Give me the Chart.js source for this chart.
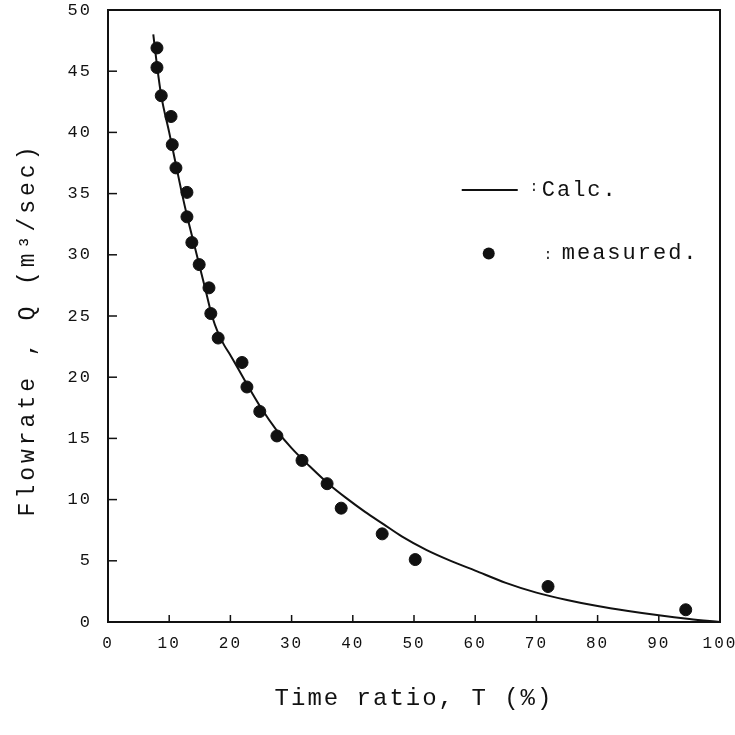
<!DOCTYPE html>
<html>
<head>
<meta charset="utf-8">
<script src="https://cdn.jsdelivr.net/npm/chart.js@4/dist/chart.umd.min.js"></script>
<style>
  html, body { margin: 0; padding: 0; background: #fff; }
  #wrap { width: 735px; height: 735px; }
</style>
</head>
<body>
<div id="wrap"><canvas id="chart"></canvas></div>
<script>
// calculated curve
const calcT = [7.4, 8, 8.7, 10, 11, 12, 13, 14, 15, 16, 17, 18, 19, 20, 22.5, 25, 27.5, 30, 33, 36, 39, 42, 45, 48, 52, 56, 60, 65, 70, 75, 80, 85, 90, 95, 100];
const calcQ = [48.0, 45.5, 43.0, 40.0, 37.6, 35.2, 33.0, 31.0, 29.0, 27.0, 25.0, 23.6, 22.6, 21.8, 19.6, 17.5, 15.7, 14.2, 12.7, 11.3, 10.1, 9.0, 8.0, 7.0, 5.9, 5.0, 4.2, 3.2, 2.4, 1.8, 1.3, 0.9, 0.55, 0.25, 0];

// measured points
const measuredT = [8.0, 8.0, 8.7, 10.3, 10.5, 11.1, 12.9, 12.9, 13.7, 14.9, 16.5, 16.8, 18.0, 21.9, 22.7, 24.8, 27.6, 31.7, 35.8, 38.1, 44.8, 50.2, 71.9, 94.4];
const measuredQ = [46.9, 45.3, 43.0, 41.3, 39.0, 37.1, 35.1, 33.1, 31.0, 29.2, 27.3, 25.2, 23.2, 21.2, 19.2, 17.2, 15.2, 13.2, 11.3, 9.3, 7.2, 5.1, 2.9, 1.0];

const xTicks = [0, 10, 20, 30, 40, 50, 60, 70, 80, 90, 100];
const yTicks = [0, 5, 10, 15, 20, 25, 30, 35, 40, 45, 50];

const yTitle = 'Flowrate , Q (m³/sec)';

const FONT = '"Liberation Mono", "DejaVu Sans Mono", monospace';
const INK = '#111';

// frame, inward ticks, y title and the little in-plot legend
const framePlugin = {
    id: 'frame',
    beforeLayout(chart) { chart.ctx.letterSpacing = '2px'; },
    beforeDraw(chart) { chart.ctx.letterSpacing = '2px'; },
    afterDatasetsDraw(chart) {
        const { ctx, chartArea: a, scales } = chart;
        ctx.save();
        ctx.strokeStyle = INK;
        ctx.lineWidth = 2;
        ctx.strokeRect(a.left, a.top, a.right - a.left, a.bottom - a.top);

        ctx.lineWidth = 1.5;
        yTicks.slice(1, -1).forEach(v => {
            const y = scales.y.getPixelForValue(v);
            ctx.beginPath();
            ctx.moveTo(a.left, y);
            ctx.lineTo(a.left + 9, y);
            ctx.stroke();
        });
        xTicks.slice(1, -1).forEach(v => {
            const x = scales.x.getPixelForValue(v);
            ctx.beginPath();
            ctx.moveTo(x, a.bottom);
            ctx.lineTo(x, a.bottom - 7);
            ctx.stroke();
        });

        // y axis title, sits a little below the middle of the plot in the original
        ctx.save();
        ctx.translate(28, scales.y.getPixelForValue(23.9));
        ctx.rotate(-Math.PI / 2);
        ctx.letterSpacing = '4px';
        ctx.font = '23px ' + FONT;
        ctx.fillStyle = INK;
        ctx.textAlign = 'center';
        ctx.textBaseline = 'middle';
        ctx.fillText(yTitle, 0, 0);
        ctx.restore();

        // legend
        const lx = scales.x.getPixelForValue(57.8);
        const ly1 = scales.y.getPixelForValue(35.3);
        const ly2 = scales.y.getPixelForValue(30.1);
        ctx.lineWidth = 2;
        ctx.beginPath();
        ctx.moveTo(lx, ly1);
        ctx.lineTo(lx + 56, ly1);
        ctx.stroke();
        ctx.fillStyle = INK;
        ctx.beginPath();
        ctx.arc(lx + 27, ly2, 6, 0, Math.PI * 2);
        ctx.fill();

        ctx.letterSpacing = '2px';
        ctx.textBaseline = 'middle';
        ctx.font = '14px ' + FONT;
        ctx.fillText(':', lx + 68, ly1 - 3);
        ctx.fillText(':', lx + 82, ly2 + 2);
        ctx.font = '22px ' + FONT;
        ctx.fillText('Calc.', lx + 80, ly1);
        ctx.fillText('measured.', lx + 100, ly2);
        ctx.restore();
    }
};

new Chart(document.getElementById('chart'), {
    type: 'scatter',
    data: {
        datasets: [
            {
                label: 'Calc.',
                type: 'line',
                data: calcT.map((t, i) => ({ x: t, y: calcQ[i] })),
                borderColor: INK,
                borderWidth: 2,
                pointRadius: 0,
                tension: 0.4,
                cubicInterpolationMode: 'monotone',
                fill: false
            },
            {
                label: 'measured.',
                data: measuredT.map((t, i) => ({ x: t, y: measuredQ[i] })),
                backgroundColor: INK,
                borderColor: INK,
                pointRadius: 6,
                pointHoverRadius: 6
            }
        ]
    },
    options: {
        responsive: true,
        maintainAspectRatio: false,
        animation: false,
        layout: { padding: { left: 8, right: 15, top: 10, bottom: 0 } },
        plugins: {
            legend: { display: false },
            tooltip: { enabled: false }
        },
        scales: {
            x: {
                type: 'linear',
                min: 0,
                max: 100,
                afterBuildTicks: scale => { scale.ticks = xTicks.map(v => ({ value: v })); },
                afterFit: scale => {
                    scale.height = 113;
                    scale.paddingLeft = 0;
                    scale.paddingRight = 0;
                },
                grid: { display: false, drawTicks: false },
                border: { display: false },
                ticks: { color: INK, padding: 12, maxRotation: 0, font: { family: FONT, size: 16 } },
                title: {
                    display: true,
                    text: 'Time ratio, T (%)',
                    color: INK,
                    font: { family: FONT, size: 24 },
                    padding: { top: 0, bottom: 22 }
                }
            },
            y: {
                type: 'linear',
                min: 0,
                max: 50,
                afterBuildTicks: scale => { scale.ticks = yTicks.map(v => ({ value: v })); },
                afterFit: scale => {
                    scale.width = 100;
                    scale.paddingTop = 0;
                    scale.paddingBottom = 0;
                },
                grid: { display: false, drawTicks: false },
                border: { display: false },
                ticks: { color: INK, padding: 16, font: { family: FONT, size: 17 } },
                title: { display: false }
            }
        }
    },
    plugins: [framePlugin]
});
</script>
</body>
</html>
